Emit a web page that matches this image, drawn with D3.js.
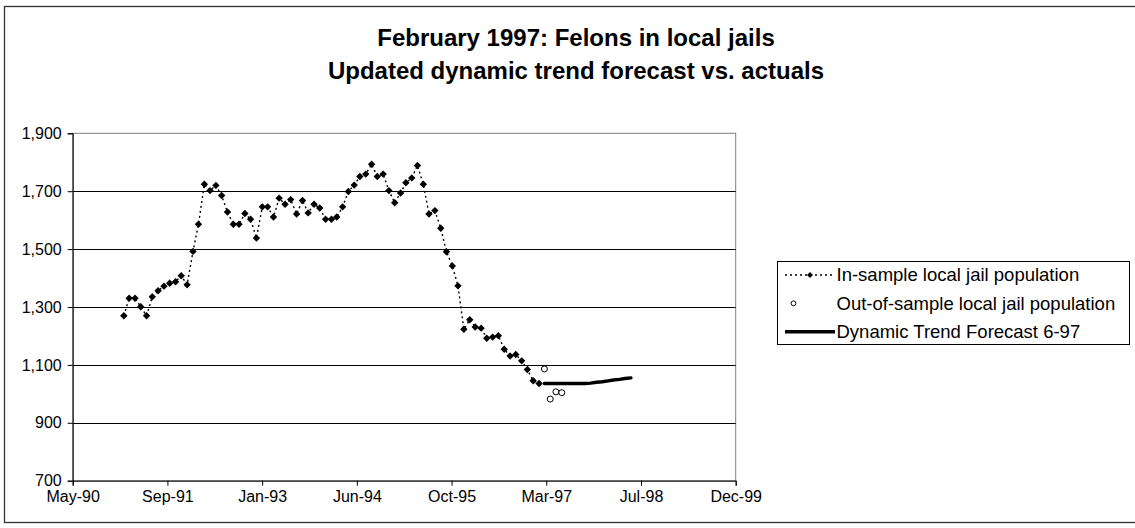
<!DOCTYPE html>
<html>
<head>
<meta charset="utf-8">
<script src="https://cdn.jsdelivr.net/npm/d3@7"></script>
<style>
  html, body { margin: 0; padding: 0; background: #fff; }
  svg { display: block; font-family: "Liberation Sans", Arial, Helvetica, sans-serif; }
</style>
</head>
<body>
<svg id="chart" width="1135" height="528"></svg>
<script>
// Monthly felon counts in local jails (in-sample), Feb 1991 - Feb 1997
const inSampleMonths = [
  "1991-02","1991-03","1991-04","1991-05","1991-06","1991-07","1991-08","1991-09","1991-10","1991-11","1991-12",
  "1992-01","1992-02","1992-03","1992-04","1992-05","1992-06","1992-07","1992-08","1992-09","1992-10","1992-11","1992-12",
  "1993-01","1993-02","1993-03","1993-04","1993-05","1993-06","1993-07","1993-08","1993-09","1993-10","1993-11","1993-12",
  "1994-01","1994-02","1994-03","1994-04","1994-05","1994-06","1994-07","1994-08","1994-09","1994-10","1994-11","1994-12",
  "1995-01","1995-02","1995-03","1995-04","1995-05","1995-06","1995-07","1995-08","1995-09","1995-10","1995-11","1995-12",
  "1996-01","1996-02","1996-03","1996-04","1996-05","1996-06","1996-07","1996-08","1996-09","1996-10","1996-11","1996-12",
  "1997-01","1997-02"
];
const inSampleValues = [
  1270, 1330, 1330, 1301, 1270, 1335, 1356, 1372, 1382, 1387, 1408,
  1377, 1492, 1586, 1724, 1702, 1720, 1685, 1628, 1586, 1586, 1623,
  1603, 1538, 1646, 1646, 1611, 1676, 1655, 1671, 1621, 1668, 1625, 1655,
  1642, 1603, 1603, 1611, 1646, 1699, 1721, 1751, 1759, 1793, 1751, 1759,
  1702, 1660, 1694, 1729, 1746, 1789, 1724, 1621, 1633, 1572, 1491, 1442,
  1373, 1223, 1256, 1231, 1227, 1192, 1196, 1201, 1154, 1131, 1136, 1114,
  1084, 1045, 1036
];

// Actuals observed after the estimation window
const outSampleMonths = ["1997-03","1997-04","1997-05","1997-06"];
const outSampleValues = [1086, 982, 1007, 1004];

// Dynamic trend forecast issued 6-97
const forecastMonths = [
  "1997-03","1997-04","1997-05","1997-06","1997-07","1997-08","1997-09","1997-10",
  "1997-11","1997-12","1998-01","1998-02","1998-03","1998-04","1998-05","1998-06"
];
const forecastValues = [
  1036, 1036, 1036, 1036, 1036, 1036, 1036, 1036,
  1037, 1040, 1042, 1045, 1048, 1050, 1053, 1055
];

// Axis ticks (date axis with a 500-day major unit)
const xTickDates = ["1990-05-07","1991-09-19","1993-01-31","1994-06-15","1995-10-28","1997-03-11","1998-07-24","1999-12-06"];
const yTicks = [700, 900, 1100, 1300, 1500, 1700, 1900];

const titleLines = ["February 1997: Felons in local jails", "Updated dynamic trend forecast vs. actuals"];
const legendLabels = ["In-sample local jail population", "Out-of-sample local jail population", "Dynamic Trend Forecast 6-97"];

// ---- layout ----
const svg = d3.select("#chart");
const plot = { left: 72.7, right: 735.7, top: 133.3, bottom: 480.7 };

const parseMonth = d3.utcParse("%Y-%m");
const parseDay = d3.utcParse("%Y-%m-%d");
const tickDates = xTickDates.map(parseDay);

const x = d3.scaleUtc()
  .domain([tickDates[0], tickDates[tickDates.length - 1]])
  .range([plot.left, plot.right]);
const y = d3.scaleLinear()
  .domain([yTicks[0], yTicks[yTicks.length - 1]])
  .range([plot.bottom, plot.top]);

// chart-area border
svg.append("rect")
  .attr("x", 4.5).attr("y", 6.5)
  .attr("width", 1145).attr("height", 516)
  .attr("fill", "#fff").attr("stroke", "#333").attr("stroke-width", 1.3);

// title
svg.append("g").selectAll("text").data(titleLines).join("text")
  .attr("x", 576).attr("y", (d, i) => 46 + i * 33)
  .attr("text-anchor", "middle")
  .attr("font-size", 24).attr("font-weight", "bold").attr("fill", "#000")
  .text(d => d);

// plot area frame
svg.append("rect")
  .attr("x", plot.left).attr("y", plot.top)
  .attr("width", plot.right - plot.left).attr("height", plot.bottom - plot.top)
  .attr("fill", "#fff").attr("stroke", "#808080").attr("stroke-width", 1);

// horizontal gridlines
svg.append("g").selectAll("line").data(yTicks.slice(1, -1)).join("line")
  .attr("x1", plot.left).attr("x2", plot.right)
  .attr("y1", d => Math.round(y(d)) + 0.5).attr("y2", d => Math.round(y(d)) + 0.5)
  .attr("stroke", "#000").attr("stroke-width", 1);

// axes
const yAxis = svg.append("g")
  .attr("transform", `translate(${plot.left},0)`)
  .call(d3.axisLeft(y).tickValues(yTicks).tickFormat(d3.format(",")).tickSize(5).tickPadding(6));
const xAxis = svg.append("g")
  .attr("transform", `translate(0,${plot.bottom})`)
  .call(d3.axisBottom(x).tickValues(tickDates).tickFormat(d3.utcFormat("%b-%y")).tickSize(5).tickPadding(5));

[yAxis, xAxis].forEach(g => {
  g.select(".domain").attr("stroke", "#000").attr("stroke-width", 1);
  g.selectAll(".tick line").attr("stroke", "#000");
  g.selectAll(".tick text").attr("font-size", 16).attr("fill", "#000")
    .attr("font-family", "\"Liberation Sans\", Arial, sans-serif");
});

// series data
const inSample = inSampleMonths.map((m, i) => ({ date: parseMonth(m), value: inSampleValues[i] }));
const outSample = outSampleMonths.map((m, i) => ({ date: parseMonth(m), value: outSampleValues[i] }));
const forecast = forecastMonths.map((m, i) => ({ date: parseMonth(m), value: forecastValues[i] }));

const line = d3.line().x(d => x(d.date)).y(d => y(d.value));
const diamond = s => `M0,${-s}L${s},0L0,${s}L${-s},0Z`;

// in-sample dotted line with diamond markers
svg.append("path").datum(inSample)
  .attr("d", line).attr("fill", "none")
  .attr("stroke", "#000").attr("stroke-width", 1.4).attr("stroke-dasharray", "2,3");
svg.append("g").selectAll("path").data(inSample).join("path")
  .attr("transform", d => `translate(${x(d.date)},${y(d.value)})`)
  .attr("d", diamond(3.7)).attr("fill", "#000");

// forecast thick line
svg.append("path").datum(forecast)
  .attr("d", line).attr("fill", "none")
  .attr("stroke", "#000").attr("stroke-width", 3.4).attr("stroke-linecap", "round");

// out-of-sample open circles
svg.append("g").selectAll("circle").data(outSample).join("circle")
  .attr("cx", d => x(d.date)).attr("cy", d => y(d.value)).attr("r", 3)
  .attr("fill", "#fff").attr("stroke", "#000").attr("stroke-width", 1);

// legend
const legend = svg.append("g");
legend.append("rect")
  .attr("x", 777.5).attr("y", 261.5).attr("width", 352).attr("height", 83)
  .attr("fill", "#fff").attr("stroke", "#000").attr("stroke-width", 1);
const rowY = [275, 303.3, 331.7];
legend.append("line")
  .attr("x1", 785).attr("x2", 835).attr("y1", rowY[0]).attr("y2", rowY[0])
  .attr("stroke", "#000").attr("stroke-width", 1.4).attr("stroke-dasharray", "2,3");
legend.append("path")
  .attr("transform", `translate(810,${rowY[0]})`).attr("d", diamond(3)).attr("fill", "#000");
legend.append("circle")
  .attr("cx", 793.5).attr("cy", rowY[1]).attr("r", 2.4)
  .attr("fill", "#fff").attr("stroke", "#000").attr("stroke-width", 1);
legend.append("line")
  .attr("x1", 785).attr("x2", 835).attr("y1", rowY[2]).attr("y2", rowY[2])
  .attr("stroke", "#000").attr("stroke-width", 3.4);
legend.selectAll("text").data(legendLabels).join("text")
  .attr("x", 836.5).attr("y", (d, i) => rowY[i])
  .attr("dy", "0.35em")
  .attr("font-size", 18.5).attr("fill", "#000")
  .text(d => d);
</script>
</body>
</html>
